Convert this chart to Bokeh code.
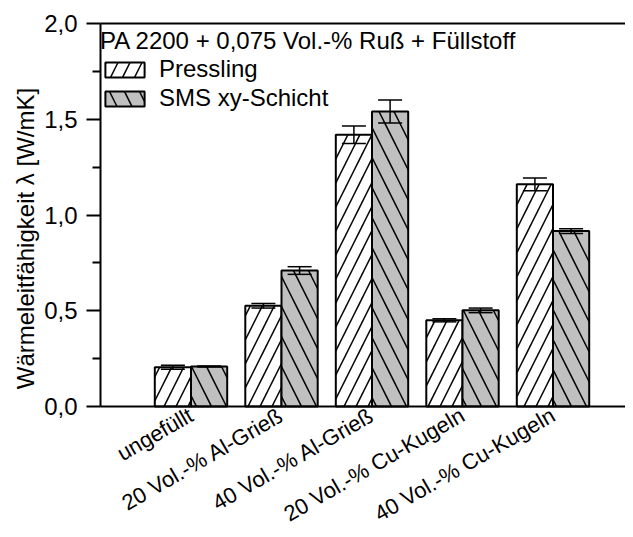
from math import pi
from bokeh.plotting import figure
from bokeh.models import (ColumnDataSource, Whisker, TeeHead, FixedTicker, LinearAxis,
                          Label, Range1d)
from bokeh.embed import file_html
from bokeh.resources import INLINE

categories = ["ungefüllt", "20 Vol.-% Al-Grieß", "40 Vol.-% Al-Grieß",
              "20 Vol.-% Cu-Kugeln", "40 Vol.-% Cu-Kugeln"]
pressling = [0.205, 0.526, 1.419, 0.450, 1.160]
pressling_err = [0.011, 0.012, 0.046, 0.008, 0.033]
sms = [0.209, 0.710, 1.540, 0.502, 0.916]
sms_err = [0.003, 0.020, 0.060, 0.012, 0.012]
y_ticks = [0.0, 0.5, 1.0, 1.5, 2.0]
y_tick_labels = ["0,0", "0,5", "1,0", "1,5", "2,0"]
y_minor = [0.25, 0.75, 1.25, 1.75]

FONT = "Liberation Sans"
FS = "24px"
BW = 0.4

# pixel geometry: the frame spans the whole figure
W, H = 625, 529
AX_X = 100          # y axis position in px
Y0 = 406            # y=0 position in px
PX_X = 90.5         # px per category
PX_Y = 191.5        # px per unit
x_start = -AX_X / PX_X
x_end = (W - AX_X) / PX_X
y_end = Y0 / PX_Y
y_start = -(H - Y0) / PX_Y

pos = [i + 1 for i in range(len(categories))]
src_p = ColumnDataSource(dict(
    x=[p_ - BW / 2 for p_ in pos], top=pressling,
    upper=[v + e for v, e in zip(pressling, pressling_err)],
    lower=[v - e for v, e in zip(pressling, pressling_err)]))
src_s = ColumnDataSource(dict(
    x=[p_ + BW / 2 for p_ in pos], top=sms,
    upper=[v + e for v, e in zip(sms, sms_err)],
    lower=[v - e for v, e in zip(sms, sms_err)]))

p = figure(width=W, height=H, output_backend="svg", toolbar_location=None,
           x_range=Range1d(x_start, x_end), y_range=Range1d(y_start, y_end),
           min_border_left=0, min_border_right=0, min_border_top=0,
           min_border_bottom=0)
p.outline_line_color = None
p.grid.visible = False
p.background_fill_color = "white"
p.border_fill_color = "white"

p.vbar(x="x", top="top", bottom=0, width=BW, source=src_p, fill_color="white",
       line_color="black", line_width=2, hatch_pattern="/", hatch_scale=24,
       hatch_weight=1.5, hatch_color="black", legend_label="Pressling")
p.vbar(x="x", top="top", bottom=0, width=BW, source=src_s, fill_color="#c0c0c0",
       line_color="black", line_width=2, hatch_pattern="\\", hatch_scale=30,
       hatch_weight=1.5, hatch_color="black", legend_label="SMS xy-Schicht")

for src in (src_p, src_s):
    w = Whisker(source=src, base="x", upper="upper", lower="lower",
                line_color="black", line_width=1.5, level="overlay",
                upper_head=TeeHead(size=24, line_width=1.5, line_color="black"),
                lower_head=TeeHead(size=24, line_width=1.5, line_color="black"))
    p.add_layout(w)

# y axis
ya = p.yaxis[0]
ya.fixed_location = 0
ya.bounds = (0, 2.0)
ya.ticker = FixedTicker(ticks=y_ticks, minor_ticks=y_minor)
ya.major_label_overrides = {t: l for t, l in zip(y_ticks, y_tick_labels)}
ya.major_label_text_font = FONT
ya.major_label_text_font_size = FS
ya.major_label_text_color = "black"
ya.major_tick_out = 14
ya.major_tick_in = 0
ya.minor_tick_out = 8
ya.minor_tick_in = 0
ya.major_tick_line_width = 2
ya.minor_tick_line_width = 2
ya.axis_line_width = 2
ya.major_label_standoff = 9

# x axis
xa = p.xaxis[0]
xa.fixed_location = 0
xa.bounds = (0, x_end)
xa.ticker = FixedTicker(ticks=pos, minor_ticks=[])
xa.major_label_overrides = {t: c for t, c in zip(pos, categories)}
xa.major_label_orientation = pi / 6
xa.major_label_text_font = FONT
xa.major_label_text_font_size = "22px"
xa.major_label_text_color = "black"
xa.major_tick_line_color = None
xa.minor_tick_line_color = None
xa.axis_line_width = 2
xa.major_label_standoff = 1

# top frame line
top = LinearAxis(ticker=FixedTicker(ticks=[], minor_ticks=[]), fixed_location=2.0,
                 bounds=(0, x_end),
                 major_tick_line_color=None, minor_tick_line_color=None,
                 major_label_text_font_size="0px", axis_line_width=2)
p.add_layout(top, "above")

# y axis title
p.add_layout(Label(x=-0.829, y=0.877, text="Wärmeleitfähigkeit λ [W/mK]",
                   angle=pi / 2, text_align="center", text_baseline="middle",
                   text_font=FONT, text_font_size=FS, text_color="black"))

lg = p.legend[0]
lg.location = (AX_X, 417)
lg.title = "PA 2200 + 0,075 Vol.-% Ruß + Füllstoff"
lg.title_text_font = FONT
lg.title_text_font_size = FS
lg.title_text_font_style = "normal"
lg.title_text_color = "black"
lg.title_standoff = 0
lg.label_text_font = FONT
lg.label_text_font_size = FS
lg.label_text_color = "black"
lg.glyph_width = 49
lg.glyph_height = 19
lg.label_height = 19
lg.label_standoff = 10
lg.spacing = 1
lg.margin = 0
lg.padding = 7
lg.border_line_color = None
lg.background_fill_alpha = 0

open("out.html", "w").write(file_html(p, INLINE))
